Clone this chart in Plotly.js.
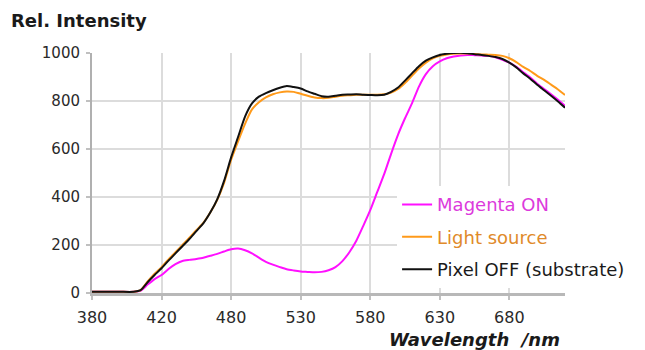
<!DOCTYPE html>
<html>
<head>
<meta charset="utf-8">
<script src="https://cdn.plot.ly/plotly-3.0.1.min.js"></script>
<style>html,body{margin:0;padding:0;background:#fff;}#chart{width:645px;height:350px;}</style>
</head>
<body>
<div id="chart"></div>
<script>
const wavelength = [380,390,400,410,415,420,425,430,435,440,445,450,455,460,465,470,475,480,485,490,495,500,505,510,515,520,525,530,535,540,545,550,555,560,565,570,575,580,585,590,595,600,605,610,615,620,625,630,635,640,645,650,655,660,665,670,675,680,685,690,695,700,705,710,715,720];

const magentaOn = [5,5,5,5,10,35,58,75,100,120,133,138,142,147,155,163,173,182,185,178,165,147,130,118,108,99,94,90,88,86,88,95,108,133,170,218,280,345,420,495,580,660,728,790,860,912,945,965,978,985,990,992,991,990,988,982,972,960,942,920,898,872,850,828,805,780];

const lightSource = [5,5,5,5,12,48,80,108,140,170,200,230,262,292,335,388,460,555,632,705,765,795,815,828,836,840,838,830,822,815,812,813,818,822,824,826,826,826,826,828,835,850,875,905,935,960,978,988,994,997,998,998,996,994,993,992,988,978,962,942,925,905,888,868,848,825];

const pixelOff = [5,5,5,5,12,45,75,103,135,165,195,225,258,290,335,390,468,565,650,735,790,818,833,845,855,862,858,852,840,830,820,818,822,826,827,828,826,825,824,826,838,856,885,915,945,968,982,992,997,1000,1001,999,995,992,988,983,975,960,940,915,893,868,845,822,798,772];

const tickVals = [380,430,480,530,580,630,680];
const tickLabels = ["380","420","480","530","580","630","680"];
const yTickVals = [0,200,400,600,800,1000];

const seriesNames = [
  '<span style="color:#dc3adc">Magenta ON</span>',
  '<span style="color:#e08a2a">Light source</span>',
  '<span style="color:#1a1a1a">Pixel OFF (substrate)</span>'
];
const seriesColors = ['#ff10ff', '#ff9a1a', '#111111'];
const seriesValues = [magentaOn, lightSource, pixelOff];

const traces = seriesValues.map((vals, i) => ({
  type: 'scatter',
  mode: 'lines',
  x: wavelength,
  y: vals,
  name: seriesNames[i],
  legendgroup: 'g' + i,
  line: {color: seriesColors[i], width: 2, shape: 'spline', smoothing: 0.6},
  cliponaxis: false,
  hoverinfo: 'skip'
}));

const layout = {
  width: 645,
  height: 350,
  margin: {l: 92, r: 80, t: 53, b: 57},
  paper_bgcolor: '#ffffff',
  plot_bgcolor: '#ffffff',
  font: {family: 'DejaVu Sans, sans-serif', color: '#333'},
  title: {
    text: '<b>Rel. Intensity</b>',
    x: 11/645, xanchor: 'left', xref: 'container',
    y: 1 - 21/350, yanchor: 'middle', yref: 'container',
    font: {family: 'DejaVu Sans, sans-serif', size: 18, color: '#1a1a1a'}
  },
  showlegend: true,
  legend: {
    x: 0.645, xanchor: 'left',
    y: 0.445, yanchor: 'top',
    bgcolor: '#ffffff',
    borderwidth: 0,
    font: {family: 'DejaVu Sans, sans-serif', size: 18, color: '#1a1a1a'},
    tracegroupgap: 6,
    itemwidth: 30
  },
  xaxis: {
    range: [380, 720],
    tickmode: 'array',
    tickvals: tickVals,
    ticktext: tickLabels,
    showgrid: true, gridcolor: '#dcdcdc', gridwidth: 2,
    showline: true, linecolor: '#b8b8b8', linewidth: 3,
    ticks: 'outside', ticklen: 4, tickwidth: 2, tickcolor: '#c0c0c0',
    ticklabelstandoff: 4,
    tickfont: {family: 'DejaVu Sans, sans-serif', size: 16, color: '#2a2a2a'},
    zeroline: false,
    fixedrange: true
  },
  yaxis: {
    range: [0, 1000],
    tickmode: 'array',
    tickvals: yTickVals,
    showgrid: true, gridcolor: '#dcdcdc', gridwidth: 2,
    showline: true, linecolor: '#b0b0b0', linewidth: 2,
    ticks: 'outside', ticklen: 4, tickwidth: 2, tickcolor: '#c0c0c0',
    ticklabelstandoff: 3,
    tickfont: {family: 'DejaVu Sans, sans-serif', size: 15, color: '#2a2a2a'},
    zeroline: false,
    fixedrange: true
  },
  annotations: [{
    text: '<b><i>Wavelength&nbsp;&nbsp;/nm</i></b>',
    xref: 'paper', yref: 'paper',
    x: 0.808, y: -0.192,
    xanchor: 'center', yanchor: 'middle',
    showarrow: false,
    font: {family: 'DejaVu Sans, sans-serif', size: 18, color: '#1a1a1a'}
  }]
};

Plotly.newPlot('chart', traces, layout, {displayModeBar: false, staticPlot: true});
</script>
</body>
</html>
